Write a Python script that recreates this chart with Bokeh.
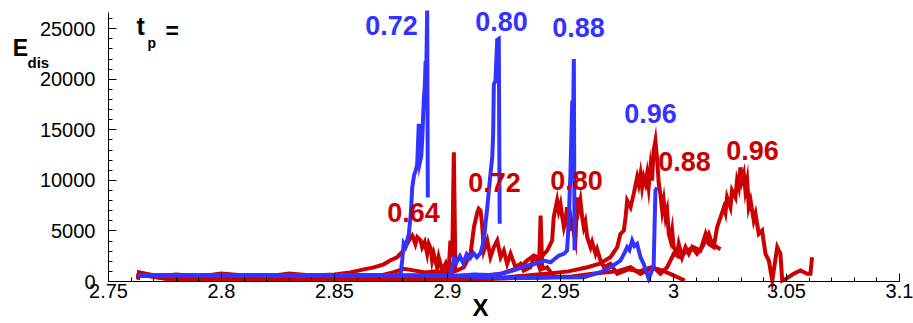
from bokeh.plotting import figure
from bokeh.models import FixedTicker, Label, Range1d
from bokeh.embed import file_html
from bokeh.resources import INLINE

BLUE = "#3333ff"
RED = "#cc0000"
FONT = "Liberation Sans"

# ---------------- data ----------------
x_ticks = [2.75, 2.8, 2.85, 2.9, 2.95, 3.0, 3.05, 3.1]
x_tick_labels = ["2.75", "2.8", "2.85", "2.9", "2.95", "3", "3.05", "3.1"]
y_ticks = [0, 5000, 10000, 15000, 20000, 25000]
y_tick_labels = ["0", "5000", "10000", "15000", "20000", "25000"]

# blue curves (t_p = 0.72, 0.80, 0.88, 0.96)
b72_x = [2.763, 2.775, 2.790, 2.805, 2.820, 2.835, 2.850, 2.862, 2.872, 2.8792,
         2.8800, 2.8806, 2.8815, 2.8829, 2.8838, 2.8844, 2.8852, 2.8860, 2.8866, 2.8873,
         2.8878, 2.8884, 2.8889, 2.8895, 2.8900, 2.8903, 2.8906, 2.8910, 2.8913]
b72_y = [600, 620, 580, 600, 640, 600, 580, 620, 600, 620,
         2200, 3800, 3500, 4700, 6800, 9300, 10500, 11000, 11600, 15600,
         11800, 12400, 14500, 17900, 19500, 21800, 20500, 26800, 8300]

b80_x = [2.763, 2.780, 2.800, 2.820, 2.840, 2.860, 2.880, 2.895, 2.9015, 2.9028,
         2.9040, 2.9055, 2.9070, 2.9085, 2.9100, 2.9115, 2.9130, 2.9146, 2.9161, 2.9168,
         2.9176, 2.9183, 2.9190, 2.9198, 2.9202, 2.9205, 2.9212, 2.9220, 2.9227, 2.9229,
         2.9231]
b80_y = [620, 600, 620, 580, 600, 620, 600, 580, 620, 2240,
         1900, 2500, 1800, 2700, 2300, 2800, 2400, 2800, 4050, 5700,
         7300, 9000, 10600, 12300, 14600, 19500, 19800, 23900, 24000, 14200,
         5700]

b88_x = [2.763, 2.780, 2.800, 2.820, 2.840, 2.860, 2.880, 2.895, 2.905, 2.912,
         2.918, 2.9235, 2.9293, 2.9352, 2.9382, 2.9426, 2.9456, 2.9493, 2.9515, 2.9529,
         2.9536, 2.9541, 2.9544, 2.9548, 2.9552, 2.9556, 2.9559, 2.9562]
b88_y = [580, 620, 600, 580, 620, 600, 580, 620, 600, 700,
         650, 750, 1100, 1580, 1700, 2070, 1900, 2570, 2740, 3060,
         5700, 9000, 10640, 14300, 17900, 16500, 22000, 3100]

b96_x = [2.763, 2.780, 2.800, 2.820, 2.840, 2.860, 2.880, 2.900, 2.920, 2.935,
         2.948, 2.9603, 2.9677, 2.9721, 2.9765, 2.9785, 2.9795, 2.9805, 2.9817, 2.9827,
         2.9839, 2.9846, 2.9854, 2.9867, 2.9883, 2.9890, 2.9905, 2.9912, 2.9920, 2.9928]
b96_y = [600, 580, 620, 600, 580, 620, 600, 580, 400, 350,
         400, 420, 920, 1400, 2070, 2900, 3400, 3100, 4050, 3500,
         3720, 3100, 2400, 1800, 760, 300, 1090, 1410, 9000, 9300]

# red curves (t_p = 0.64, 0.72, 0.80, 0.88, 0.96)
r64_x = [2.763, 2.7635, 2.770, 2.780, 2.790, 2.800, 2.810, 2.820, 2.830, 2.840,
         2.850, 2.857, 2.863, 2.8674, 2.8718, 2.8748, 2.8777, 2.8807, 2.8829, 2.8844,
         2.8850, 2.8858, 2.8866, 2.8881, 2.8888, 2.8899, 2.8910, 2.8917, 2.8925, 2.8932,
         2.8939, 2.8954, 2.8961, 2.8976, 2.8991, 2.8998, 2.9006, 2.9013, 2.9017, 2.9021,
         2.9028, 2.9035]
r64_y = [300, 900, 500, 700, 500, 800, 600, 500, 800, 600,
         700, 900, 1200, 1400, 1700, 2100, 2400, 3100, 4050, 4540,
         4220, 3700, 4380, 4050, 3390, 3900, 2740, 3720, 3300, 2070,
         2740, 1410, 2400, 1090, 1750, 920, 1500, 4050, 3000, 2400,
         12780, 1090]

r72_x = [2.763, 2.7635, 2.775, 2.790, 2.805, 2.820, 2.835, 2.850, 2.862, 2.8704,
         2.8762, 2.8807, 2.885, 2.890, 2.895, 2.900, 2.9043, 2.9072, 2.9102, 2.9117,
         2.9132, 2.9138, 2.9146, 2.9153, 2.9161, 2.9176, 2.9190, 2.9205, 2.9220, 2.9235,
         2.9249, 2.9264, 2.9279, 2.9290, 2.9301, 2.9323, 2.9337, 2.9367, 2.9382, 2.9396,
         2.9405, 2.9412, 2.9419, 2.9441, 2.9456]
r72_y = [200, 800, 300, 200, 300, 250, 200, 300, 350, 600,
         920, 1250, 1100, 900, 1000, 800, 1090, 1400, 2740, 5370,
         6850, 7200, 7010, 5700, 3060, 4050, 2400, 3390, 4050, 2400,
         3060, 1750, 2740, 2070, 1410, 1750, 1090, 1410, 2400, 2070,
         1500, 6520, 1250, 1410, 920]

r80_x = [2.763, 2.7635, 2.775, 2.790, 2.805, 2.820, 2.835, 2.850, 2.865, 2.880,
         2.895, 2.905, 2.915, 2.9235, 2.9323, 2.9352, 2.9382, 2.9410, 2.9441, 2.9463,
         2.9470, 2.9485, 2.9492, 2.9500, 2.9508, 2.9515, 2.9522, 2.9529, 2.9537, 2.9544,
         2.9555, 2.9566, 2.9574, 2.9581, 2.9588, 2.9596, 2.9603, 2.9610, 2.9618, 2.9633,
         2.9640, 2.9655, 2.9662, 2.9677, 2.9692, 2.9721, 2.9751, 2.980, 2.985, 2.990,
         2.995, 3.000, 3.005]
r80_y = [300, 900, 400, 300, 200, 300, 250, 200, 300, 250,
         300, 350, 500, 760, 1410, 2070, 2570, 2300, 3060, 4050,
         6350, 8000, 7000, 7670, 6350, 5370, 6030, 7340, 5000, 6500,
         5200, 4050, 8330, 7200, 8000, 6350, 5370, 5900, 4380, 3390,
         3900, 2740, 3200, 2070, 1410, 1750, 760, 1200, 1000, 1400,
         1100, 600, 100]

r88_x = [2.763, 2.7635, 2.775, 2.790, 2.805, 2.820, 2.835, 2.850, 2.865, 2.880,
         2.895, 2.910, 2.925, 2.935, 2.945, 2.9535, 2.9620, 2.9677, 2.9721, 2.9751,
         2.9765, 2.9780, 2.9788, 2.9795, 2.9810, 2.9824, 2.9839, 2.9846, 2.9854, 2.9861,
         2.9868, 2.9876, 2.9883, 2.9890, 2.9898, 2.9905, 2.9912, 2.9920, 2.9928, 2.9935,
         2.9942, 2.9950, 2.9957, 2.9965, 2.9972, 2.9979, 2.9987, 2.9994, 3.0001, 3.0016,
         3.0023, 3.0038, 3.0053, 3.0068, 3.0082, 3.0104, 3.0127, 3.0142, 3.0156, 3.0171,
         3.0193, 3.0208]
r88_y = [200, 700, 300, 250, 350, 300, 200, 250, 300, 200,
         300, 250, 400, 600, 800, 1000, 1410, 1800, 2400, 3390,
         4700, 5040, 6350, 8000, 7340, 8660, 10300, 9600, 10640, 9320,
         10300, 9700, 10640, 9320, 11290, 9980, 12940, 13930, 11950, 9650,
         8660, 7010, 8000, 6350, 7010, 4710, 4050, 5040, 3390, 2740,
         3720, 2400, 3390, 2740, 3390, 2740, 3390, 4050, 4710, 3720,
         3390, 3200]

r96_x = [2.763, 2.7635, 2.775, 2.790, 2.805, 2.820, 2.835, 2.850, 2.865, 2.880,
         2.895, 2.910, 2.925, 2.940, 2.955, 2.965, 2.975, 2.9810, 2.9854, 2.9883,
         2.9912, 2.9942, 2.9972, 3.0001, 3.0031, 3.0060, 3.0089, 3.0119, 3.0142, 3.0156,
         3.0178, 3.0193, 3.0208, 3.0223, 3.0230, 3.0237, 3.0252, 3.0259, 3.0274, 3.0281,
         3.0289, 3.0296, 3.0303, 3.0311, 3.0318, 3.0326, 3.0333, 3.0341, 3.0355, 3.0363,
         3.0377, 3.0392, 3.0407, 3.0422, 3.0437, 3.0459, 3.0473, 3.0481, 3.0500, 3.0532,
         3.0562, 3.0591, 3.0606, 3.0613]
r96_y = [200, 700, 300, 200, 250, 300, 200, 300, 200, 250,
         300, 200, 300, 400, 500, 800, 1000, 1410, 760, 1090,
         1410, 760, 1410, 2740, 2400, 3060, 3390, 3060, 4710, 3720,
         3390, 5370, 6350, 7340, 6800, 8330, 7340, 9000, 8330, 9980,
         9320, 11290, 9980, 10640, 9000, 9980, 7340, 8000, 6030, 6690,
         4710, 5040, 2740, 2070, 100, 3390, 2740, 100, 300, 760,
         1090, 760, 760, 2400]

red_series = [(r64_x, r64_y), (r72_x, r72_y), (r80_x, r80_y), (r88_x, r88_y), (r96_x, r96_y)]
blue_series = [(b72_x, b72_y), (b80_x, b80_y), (b88_x, b88_y), (b96_x, b96_y)]

blue_labels = ["0.72", "0.80", "0.88", "0.96"]
red_labels = ["0.64", "0.72", "0.80", "0.88", "0.96"]

# ---------------- layout ----------------
W, H = 913, 323
X0, X1 = 2.75, 3.1          # axis extent
Y0, Y1 = 0, 26600
AX_L, AX_R, AX_T, AX_B = 108, 899, 12, 281   # pixel position of the axes box
XPP = (X1 - X0) / (AX_R - AX_L)   # data per pixel
YPP = (Y1 - Y0) / (AX_B - AX_T)


def px_x(px):
    return X0 + (px - AX_L) * XPP


def px_y(py):
    return Y0 + (AX_B - py) * YPP


# the frame covers the whole canvas; axes are fixed at x=2.75 / y=0
p = figure(width=W, height=H,
           x_range=Range1d(px_x(0), px_x(W)), y_range=Range1d(px_y(H), px_y(0)),
           output_backend="svg", toolbar_location=None, min_border=0)
p.outline_line_color = None
p.grid.visible = False
p.background_fill_color = "white"
p.border_fill_color = "white"

p.xaxis.ticker = FixedTicker(ticks=x_ticks, minor_ticks=[round(2.75 + 0.01 * i, 2) for i in range(36)])
p.yaxis.ticker = FixedTicker(ticks=y_ticks, minor_ticks=[1000 * i for i in range(27)])
p.xaxis.major_label_overrides = dict(zip(x_ticks, x_tick_labels))
p.yaxis.major_label_overrides = dict(zip(y_ticks, y_tick_labels))
p.xaxis.fixed_location = Y0
p.yaxis.fixed_location = X0
p.xaxis.bounds = (X0, X1)
p.yaxis.bounds = (Y0, Y1)

for ax in (p.xaxis[0], p.yaxis[0]):
    ax.axis_line_color = "black"
    ax.axis_line_width = 1
    ax.major_tick_line_color = "black"
    ax.minor_tick_line_color = "black"
    ax.major_tick_in = 8
    ax.major_tick_out = 0
    ax.minor_tick_in = 4
    ax.minor_tick_out = 0
    ax.major_label_text_font = FONT
    ax.major_label_text_font_size = "20px"
    ax.major_label_text_color = "black"
p.xaxis.major_label_standoff = 2
p.yaxis.major_label_standoff = 13

for xs, ys in red_series:
    p.line(xs, ys, line_color=RED, line_width=4, line_join="miter")
for xs, ys in blue_series:
    p.line(xs, ys, line_color=BLUE, line_width=4, line_join="miter")

# series labels (pixel centres)
blue_pos = [(391, 25), (501, 21), (578, 27), (650, 113)]
red_pos = [(413, 212), (494, 182), (576, 180), (684, 161), (752, 150)]


def add_label(text, px, py, color, size, align="center", baseline="middle", style="bold"):
    p.add_layout(Label(x=px_x(px), y=px_y(py), text=text, text_color=color,
                       text_font=FONT, text_font_size=size, text_font_style=style,
                       text_align=align, text_baseline=baseline))


for t, (px, py) in zip(blue_labels, blue_pos):
    add_label(t, px, py, BLUE, "27px")
for t, (px, py) in zip(red_labels, red_pos):
    add_label(t, px, py, RED, "27px")

# axis titles and t_p
add_label("E", 20, 47, "black", "23px")
add_label("dis", 27, 62, "black", "15px", align="left")
add_label("t", 136, 25, "black", "25px", align="left")
add_label("p", 147, 42, "black", "14px", align="left")
add_label("=", 165, 30, "black", "23px", align="left")
add_label("X", 480, 307, "black", "24px")

open("out.html", "w").write(file_html(p, INLINE))
